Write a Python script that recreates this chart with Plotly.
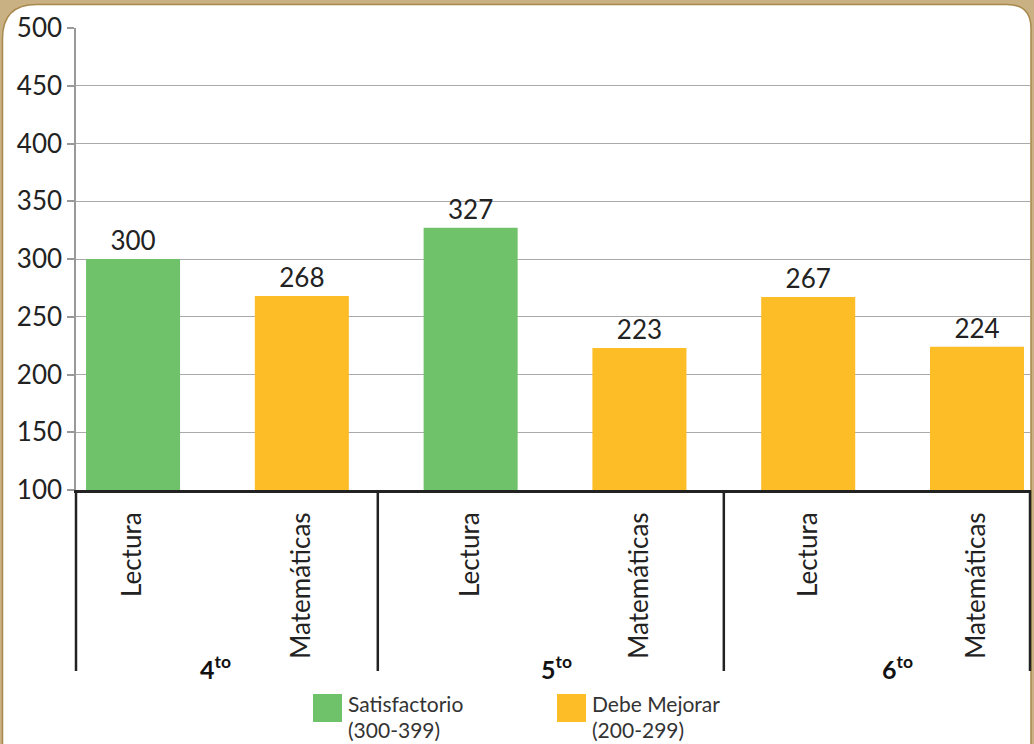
import plotly.graph_objects as go

grades = ["4<sup>to</sup>", "5<sup>to</sup>", "6<sup>to</sup>"]
subjects = ["Lectura", "Matemáticas", "Lectura", "Matemáticas", "Lectura", "Matemáticas"]
scores = [300, 268, 327, 223, 267, 224]
levels = ["Satisfactorio", "Debe Mejorar", "Satisfactorio", "Debe Mejorar", "Debe Mejorar", "Debe Mejorar"]
level_names = ["Satisfactorio", "Debe Mejorar"]
level_ranges = ["(300-399)", "(200-299)"]
level_colors = {"Satisfactorio": "#70C26A", "Debe Mejorar": "#FDBD26"}

W, H = 1034, 744
ML, MR, MT, MB = 76, 4, 28, 254
PW = W - ML - MR
PH = H - MT - MB

def px(x):
    return (x - ML) / PW

def py(y):
    return (H - MB - y) / PH

FONT = "Lato"
TXT = "#222222"

xs = list(range(len(scores)))

fig = go.Figure()
fig.add_trace(go.Bar(
    x=xs, y=scores,
    marker=dict(color=[level_colors[l] for l in levels], line=dict(width=0)),
    text=[str(v) for v in scores], textposition="outside",
    textfont=dict(family=FONT, size=26, color=TXT),
    cliponaxis=False, showlegend=False, hoverinfo="skip",
))

shapes = []
# card background with rounded top corners
x0, y0, x1, y1 = 2.5, 4.5, 1031, 760
rl, rr = 34, 24
path = (f"M {px(x0)},{py(y1)} L {px(x0)},{py(y0+rl)} "
        f"Q {px(x0)},{py(y0)} {px(x0+rl)},{py(y0)} "
        f"L {px(x1-rr)},{py(y0)} Q {px(x1)},{py(y0)} {px(x1)},{py(y0+rr)} "
        f"L {px(x1)},{py(y1)} Z")
shapes.append(dict(type="path", xref="paper", yref="paper", path=path,
                   fillcolor="white", line=dict(color="#A8884C", width=1.5), layer="below"))

# group dividers below the axis
ybot = py(671)
for xv in (0, 1):
    shapes.append(dict(type="line", xref="paper", yref="paper", x0=xv, x1=xv, y0=0, y1=ybot,
                       line=dict(color="#222222", width=2.5), layer="above"))
div_shift = [-0.05, 0.0]
for g in range(1, len(grades)):
    xv = 2 * g - 0.5 + div_shift[g - 1]
    shapes.append(dict(type="line", xref="x", yref="paper", x0=xv, x1=xv, y0=0, y1=ybot,
                       line=dict(color="#222222", width=2.5), layer="above"))

annotations = []
lab_shift = [0.49, 0.51, 0.53]
for g, name in enumerate(grades):
    annotations.append(dict(x=2 * g + lab_shift[g], xref="x", y=py(686), yref="paper",
                            text=f"<b>{name[0]}</b><b><sup>{name[6:8]}</sup></b>",
                            showarrow=False, font=dict(family=FONT, size=25, color="#111111")))

# custom legend
leg_x = [313, 557]
for i, name in enumerate(level_names):
    sx = leg_x[i]
    shapes.append(dict(type="rect", xref="paper", yref="paper",
                       x0=px(sx), x1=px(sx + 29), y0=py(722), y1=py(694),
                       fillcolor=level_colors[name], line=dict(width=0)))
    annotations.append(dict(x=px(sx + 33), y=py(718), xref="paper", yref="paper",
                            text=name, xanchor="left", showarrow=False,
                            font=dict(family=FONT, size=21, color="#333333")))
    annotations.append(dict(x=px(sx + 33), y=py(744), xref="paper", yref="paper",
                            text=level_ranges[i], xanchor="left", showarrow=False,
                            font=dict(family=FONT, size=21, color="#333333")))

fig.update_layout(
    width=W, height=H,
    margin=dict(l=ML, r=MR, t=MT, b=MB),
    paper_bgcolor="#C9B183", plot_bgcolor="rgba(0,0,0,0)",
    bargap=0.443,
    shapes=shapes, annotations=annotations,
    showlegend=False,
    font=dict(family=FONT, color=TXT),
)
fig.update_xaxes(
    range=[-0.338, 5.314], tickvals=xs, ticktext=subjects, tickangle=-90,
    tickfont=dict(family=FONT, size=26, color=TXT),
    showgrid=False, zeroline=False, ticks="",
    showline=True, linecolor="#222222", linewidth=3,
    ticklabelstandoff=9,
)
fig.update_yaxes(
    range=[100, 500], dtick=50, tick0=100,
    tickfont=dict(family=FONT, size=26, color=TXT),
    showgrid=True, gridcolor="#AAAAAA", gridwidth=1.3,
    zeroline=False, ticks="outside", ticklen=7, tickcolor="#999999", tickwidth=1.5,
    showline=True, linecolor="#999999", linewidth=1.5,
)

fig.write_html("out.html", config={"displayModeBar": False},
               post_script="document.body.style.margin='0';document.body.style.padding='0';")
